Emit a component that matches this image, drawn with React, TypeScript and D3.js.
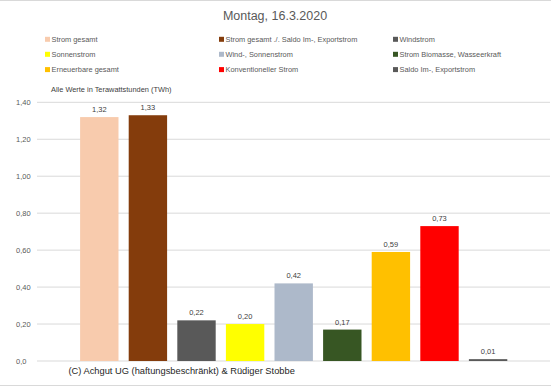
import React from 'react';
import { scaleBand, scaleLinear } from 'd3';

const categories = [
  'Strom gesamt',
  'Strom gesamt ./. Saldo Im-, Exportstrom',
  'Windstrom',
  'Sonnenstrom',
  'Wind-, Sonnenstrom',
  'Strom Biomasse, Wasseerkraft',
  'Erneuerbare gesamt',
  'Konventioneller Strom',
  'Saldo Im-, Exportstrom',
];
const values = [1.32, 1.33, 0.22, 0.2, 0.42, 0.17, 0.59, 0.73, 0.01];
const colors = ['#F8CBAD', '#843C0C', '#595959', '#FFFF00', '#ADB9CA', '#375623', '#FFC000', '#FF0000', '#595959'];
const ticks = [0, 0.2, 0.4, 0.6, 0.8, 1.0, 1.2, 1.4];
const tickLabels = ['0,0', '0,20', '0,40', '0,60', '0,80', '1,00', '1,20', '1,40'];

const width = 551;
const height = 386;
const font = 'Liberation Sans, Arial, sans-serif';

const fmt = (v: number) => v.toFixed(2).replace('.', ',');

const App = () => {
  const x = scaleBand()
    .domain(categories)
    .range([75, 512.4])
    .paddingInner(0.21)
    .paddingOuter(0.105);

  const y = scaleLinear()
    .domain([0, 1.4])
    .range([361, 102.3]);

  // legend: 3 columns, row-major order
  const legendX = [45, 219, 393];
  const legendY = [39.3, 54.3, 69.6];

  return (
    <svg width={width} height={height} style={{ position: 'absolute', left: 0, top: 0 }} fontFamily={font}>
      <rect x={0} y={0} width={width} height={height} fill="#fff" />
      <line x1={0} x2={width} y1={0.5} y2={0.5} stroke="#d9d9d9" />
      <line x1={0} x2={width} y1={385.5} y2={385.5} stroke="#d9d9d9" />

      <text x={275} y={20} textAnchor="middle" fontSize={12.5} fill="#595959">Montag, 16.3.2020</text>

      {categories.map((c, i) => (
        <g key={c} transform={`translate(${legendX[i % 3]},${legendY[Math.floor(i / 3)]})`}>
          <rect x={0} y={-2.5} width={5} height={5} fill={colors[i]} />
          <text x={6.5} y={2.7} fontSize={7.4} fill="#595959">{c}</text>
        </g>
      ))}

      <text x={51} y={91.8} fontSize={7.4} fill="#404040">Alle Werte in Terawattstunden (TWh)</text>

      {ticks.map((t, i) => (
        <g key={t}>
          <line x1={37} x2={550} y1={y(t)} y2={y(t)} stroke="#d9d9d9" strokeWidth={1} />
          <text x={16} y={y(t) + 2.8} fontSize={7.5} fill="#595959">{tickLabels[i]}</text>
        </g>
      ))}

      {categories.map((c, i) => (
        <g key={c}>
          <rect
            x={x(c)}
            y={y(values[i])}
            width={x.bandwidth()}
            height={y(0) - y(values[i])}
            fill={colors[i]}
          />
          <text
            x={(x(c) as number) + x.bandwidth() / 2}
            y={y(values[i]) - 5}
            textAnchor="middle"
            fontSize={7.5}
            fill="#404040"
          >
            {fmt(values[i])}
          </text>
        </g>
      ))}

      <text x={68.5} y={373.5} fontSize={9.3} fill="#262626">(C) Achgut UG (haftungsbeschränkt) &amp; Rüdiger Stobbe</text>
    </svg>
  );
};

export default App;
